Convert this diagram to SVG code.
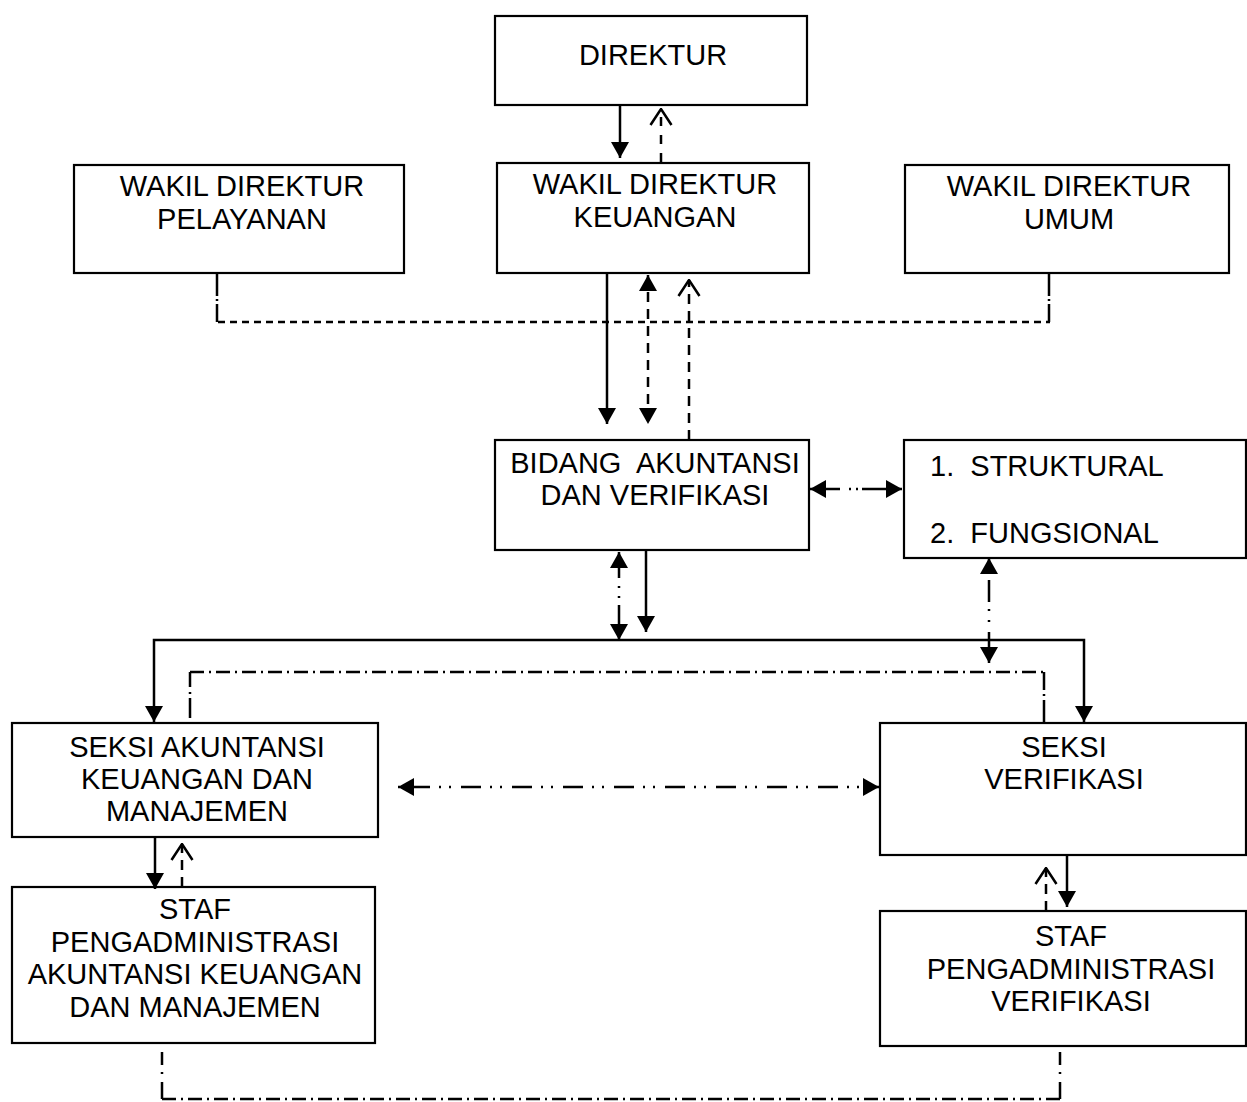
<svg xmlns="http://www.w3.org/2000/svg" width="1247" height="1102" viewBox="0 0 1247 1102">
<style>
.box{fill:#fff;stroke:#000;stroke-width:2.2}
text{font-family:"Liberation Sans",Arial,sans-serif;font-size:29px;fill:#000;text-anchor:middle}
.ln{fill:none;stroke:#000;stroke-width:2.5}
.dsh{stroke-dasharray:10,7}
.dsh2{stroke-dasharray:7,5}
.dd{stroke-dasharray:14,5,2,5}
</style>
<defs>
<marker id="fa" viewBox="0 0 16 18" refX="16" refY="9" markerWidth="16" markerHeight="18" markerUnits="userSpaceOnUse" orient="auto-start-reverse">
<path d="M0,0 L16,9 L0,18 z" fill="#000" stroke="none"/>
</marker>
<marker id="oa" viewBox="0 0 18 24" refX="17" refY="12" markerWidth="18" markerHeight="24" markerUnits="userSpaceOnUse" orient="auto">
<path d="M1,1.5 L17,12 L1,22.5" fill="none" stroke="#000" stroke-width="2.5" stroke-dasharray="none"/>
</marker>
</defs>
<g id="direktur"><rect class="box" x="495" y="16" width="312" height="89"/><text x="653" y="65">DIREKTUR</text></g>
<g id="wadir-pelayanan"><rect class="box" x="74" y="165" width="330" height="108"/><text x="242" y="196">WAKIL DIREKTUR</text><text x="242" y="229">PELAYANAN</text></g>
<g id="wadir-keuangan"><rect class="box" x="497" y="163" width="312" height="110"/><text x="655" y="194">WAKIL DIREKTUR</text><text x="655" y="227">KEUANGAN</text></g>
<g id="wadir-umum"><rect class="box" x="905" y="165" width="324" height="108"/><text x="1069" y="196">WAKIL DIREKTUR</text><text x="1069" y="229">UMUM</text></g>
<g id="bidang"><rect class="box" x="495" y="440" width="314" height="110"/><text x="655" y="473" xml:space="preserve">BIDANG  AKUNTANSI</text><text x="655" y="505">DAN VERIFIKASI</text></g>
<g id="struktural"><rect class="box" x="904" y="440" width="342" height="118"/><text x="930" y="476" style="text-anchor:start" xml:space="preserve">1.  STRUKTURAL</text><text x="930" y="543" style="text-anchor:start" xml:space="preserve">2.  FUNGSIONAL</text></g>
<g id="seksi-akuntansi"><rect class="box" x="12" y="723" width="366" height="114"/><text x="197" y="757">SEKSI AKUNTANSI</text><text x="197" y="789">KEUANGAN DAN</text><text x="197" y="821">MANAJEMEN</text></g>
<g id="seksi-verifikasi"><rect class="box" x="880" y="723" width="366" height="132"/><text x="1064" y="757">SEKSI</text><text x="1064" y="789">VERIFIKASI</text></g>
<g id="staf-akuntansi"><rect class="box" x="12" y="887" width="363" height="156"/><text x="195" y="919">STAF</text><text x="195" y="952">PENGADMINISTRASI</text><text x="195" y="984">AKUNTANSI KEUANGAN</text><text x="195" y="1017">DAN MANAJEMEN</text></g>
<g id="staf-verifikasi"><rect class="box" x="880" y="911" width="366" height="135"/><text x="1071" y="946">STAF</text><text x="1071" y="979">PENGADMINISTRASI</text><text x="1071" y="1011">VERIFIKASI</text></g>
<g id="connectors">
<path class="ln" d="M620,105 V158" marker-end="url(#fa)"/>
<path class="ln" d="M661,162 V109" style="stroke-dasharray:9,9" marker-end="url(#oa)"/>
<path class="ln" d="M607,273 V424" marker-end="url(#fa)"/>
<path class="ln dsh" d="M648,275 V424" marker-start="url(#fa)" marker-end="url(#fa)"/>
<path class="ln dsh" d="M689,440 V280" marker-end="url(#oa)"/>
<path class="ln" d="M217,273 V296 M217,299 V301 M217,304 V322" />
<path class="ln" d="M1049,273 V296 M1049,299 V301 M1049,304 V322" />
<path class="ln dsh2" d="M218,322 H1050"/>
<path class="ln" d="M810,489 H902" style="stroke-dasharray:30,9,2,5,2,4,60" marker-start="url(#fa)" marker-end="url(#fa)"/>
<path class="ln" d="M619,552 V640" style="stroke-dasharray:26,8,2,8,2,7,60" marker-start="url(#fa)" marker-end="url(#fa)"/>
<path class="ln" d="M646,550 V632" marker-end="url(#fa)"/>
<path class="ln" d="M989,558 V663" style="stroke-dasharray:15,7,22,7,2,9,2,10,60" marker-start="url(#fa)" marker-end="url(#fa)"/>
<path class="ln" d="M154,722 V640 H1084 V722" marker-start="url(#fa)" marker-end="url(#fa)"/>
<path class="ln" d="M190,687 V672" />
<path class="ln" d="M190,692 V694 M190,698 V718"/>
<path class="ln dd" d="M190,672 H1044"/>
<path class="ln" d="M1044,672 V690 M1044,694 V696 M1044,700 V723"/>
<path class="ln" d="M398,787 H879" style="stroke-dasharray:20,9,2,8,2,10;stroke-dashoffset:39" marker-start="url(#fa)" marker-end="url(#fa)"/>
<path class="ln" d="M155,837 V889" marker-end="url(#fa)"/>
<path class="ln dsh" d="M182,887 V844" marker-end="url(#oa)"/>
<path class="ln dsh" d="M1046,911 V868" marker-end="url(#oa)"/>
<path class="ln" d="M1067,855 V907" marker-end="url(#fa)"/>
<path class="ln" d="M162,1052 V1065 M162,1072 V1074 M162,1082 V1099"/>
<path class="ln" d="M1060,1052 V1065 M1060,1072 V1074 M1060,1082 V1099"/>
<path class="ln dd" d="M162,1099 H1060"/>
</g>
</svg>
